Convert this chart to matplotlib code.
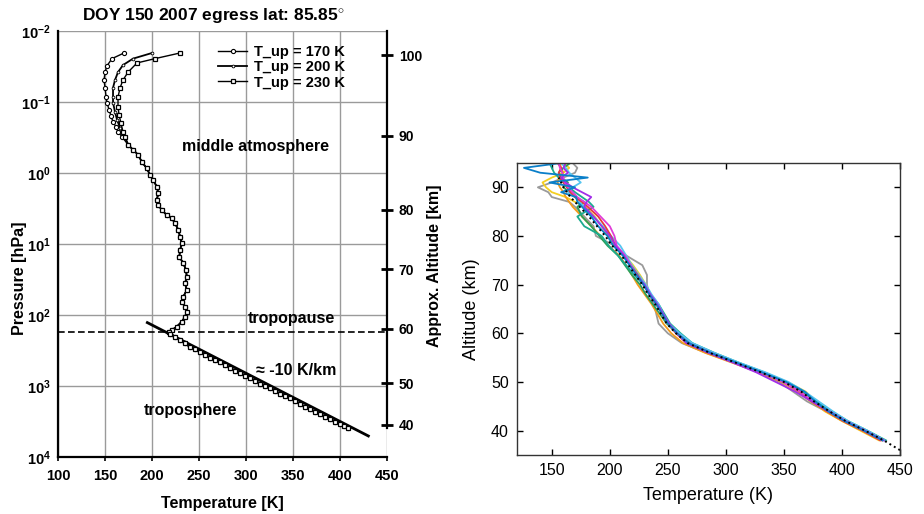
import matplotlib
matplotlib.use('Agg')
import matplotlib.pyplot as plt
import numpy as np

plt.rcParams['font.family'] = ['Liberation Sans', 'DejaVu Sans']
plt.rcParams['mathtext.fontset'] = 'custom'
plt.rcParams['mathtext.rm'] = 'Liberation Sans'
plt.rcParams['mathtext.bf'] = 'Liberation Sans:bold'

# --- left panel: retrieved T(p), upper part depends on T_up ---
t_170 = [170.2, 157.4, 152.1, 150.0, 148.9, 150.0, 151.1, 152.1, 154.3, 156.4, 158.5, 161.7, 163.8, 168.1]
p_170 = [0.0204, 0.0245, 0.0309, 0.0380, 0.0490, 0.0631, 0.0851, 0.102, 0.129, 0.158, 0.191, 0.224, 0.263, 0.309]

t_200 = [200.0, 179.8, 169.1, 163.8, 160.6, 158.5, 158.5, 158.5, 160.6, 162.8, 166.0, 169.1]
p_200 = [0.0204, 0.0245, 0.0302, 0.0380, 0.0490, 0.0631, 0.0851, 0.102, 0.138, 0.178, 0.234, 0.275]

t_230 = [229.8, 203.2, 184.0, 174.5, 169.1, 166.0, 163.8, 163.8, 164.9, 167.0, 169.1, 171.3]
p_230 = [0.0204, 0.0245, 0.0282, 0.0380, 0.0490, 0.0631, 0.0851, 0.117, 0.151, 0.200, 0.263, 0.309]

# shared part (middle atmosphere down to tropopause)
t_common = [174.8, 180.1, 185.4, 189.0, 194.4, 197.9, 201.4, 205.0, 206.7, 205.0, 206.7, 210.3,
            215.6, 221.0, 224.5, 228.0, 229.8, 231.6, 229.8, 229.0, 233.3, 236.2, 236.9, 235.1,
            236.9, 233.3, 231.6, 235.1, 236.9, 235.1, 231.6, 226.3, 221.0, 218.4]
p_common = [0.404, 0.474, 0.557, 0.693, 0.859, 1.067, 1.256, 1.560, 1.932, 2.399, 2.825, 3.319,
            3.908, 4.345, 5.105, 6.353, 7.889, 9.772, 12.16, 15.10, 18.71, 23.23, 28.91, 35.81,
            44.46, 55.21, 65.01, 76.38, 89.95, 105.7, 124.2, 146.2, 162.6, 171.8]

# troposphere
t_tropo = [219.1, 224.5, 229.8, 235.0, 240.4, 245.7, 251.1, 256.4, 261.7, 267.0, 272.3, 277.6,
           283.0, 288.3, 293.6, 299.0, 304.3, 309.6, 314.9, 320.2, 325.5, 330.9, 336.2, 341.5,
           346.8, 352.1, 357.4, 362.8, 368.1, 373.4, 378.7, 384.0, 389.4, 394.7, 400.0, 404.0, 408.5]
p_tropo = [182.4, 203, 224.9, 252, 282.5, 305, 331.9, 364, 397.2, 430, 466.7, 510,
           557.2, 605, 656.1, 712, 770.9, 843, 922.6, 1000, 1084, 1180, 1276, 1385,
           1500, 1640, 1795, 1950, 2109, 2290, 2477, 2690, 2917, 3170, 3428, 3620, 3846]

# lapse-rate line (~ -10 K/km)
t_fit = [195.0, 430.1]
p_fit = [128, 5058]

p_tropopause = 176

p_ticks = [1e-2, 1e-1, 1e0, 1e1, 1e2, 1e3, 1e4]
p_tick_labels = [r'$\mathbf{10^{-2}}$', r'$\mathbf{10^{-1}}$', r'$\mathbf{10^{0}}$', r'$\mathbf{10^{1}}$',
                 r'$\mathbf{10^{2}}$', r'$\mathbf{10^{3}}$', r'$\mathbf{10^{4}}$']
t_ticks_left = [100, 150, 200, 250, 300, 350, 400, 450]

alt_tick_p = [0.0218, 0.301, 3.32, 22.5, 157, 908, 3540]
alt_tick_labels = ['100', '90', '80', '70', '60', '50', '40']

# --- right panel: altitude profiles ---
alt_grid = [38, 40, 42, 44, 46, 48, 50, 52, 54, 56, 58, 60, 62, 64, 66, 68, 70, 72, 74, 76, 78, 80,
            82, 84, 86, 87, 88, 89, 90, 91, 92, 93, 94, 95]
prof_blue = [435, 419, 402, 388, 377, 368, 352, 331, 309, 287, 268, 258, 250, 245, 240, 234, 229, 223, 217, 211, 203, 198,
             190, 184, 176, 172, 171, 158, 170, 148, 181, 140, 126, 158]
prof_orange = [434, 417, 400, 386, 373, 362, 348, 328, 305, 282, 263, 253, 246, 241, 236, 230, 224, 219, 214, 208, 199, 192,
               184, 176, 168, 165, 162, 160, 157, 155, 156, 160, 158, 157]
prof_yellow = [432, 416, 400, 385, 377, 369, 353, 332, 309, 288, 270, 259, 251, 246, 241, 235, 231, 226, 220, 213, 205, 199,
               193, 187, 179, 170, 162, 150, 145, 142, 150, 160, 165, 160]
prof_purple = [436, 420, 403, 389, 374, 360, 343, 326, 306, 285, 266, 258, 251, 246, 241, 235, 230, 223, 217, 212, 205, 200,
               193, 186, 178, 180, 184, 176, 168, 162, 158, 164, 160, 162]
prof_green = [437, 421, 404, 390, 377, 366, 351, 331, 309, 288, 269, 258, 249, 243, 237, 231, 226, 219, 213, 207, 198, 191,
              184, 176, 172, 178, 170, 165, 160, 164, 158, 156, 160, 166]
prof_lightblue = [437, 422, 405, 392, 380, 368, 354, 334, 311, 290, 271, 260, 251, 246, 242, 236, 231, 225, 219, 214, 209, 201,
                  194, 186, 178, 174, 170, 164, 168, 175, 170, 165, 162, 158]
prof_red = [433, 418, 401, 387, 374, 364, 350, 330, 307, 285, 266, 257, 250, 245, 240, 234, 229, 224, 218, 212, 205, 201,
            196, 190, 181, 176, 170, 166, 163, 160, 157, 156, 158, 155]
prof_gray = [435, 419, 401, 386, 370, 358, 346, 328, 306, 283, 262, 250, 242, 240, 238, 234, 232, 232, 228, 214, 204, 188,
             186, 178, 170, 165, 150, 147, 138, 150, 160, 170, 172, 168]
prof_teal = [438, 422, 405, 391, 378, 367, 352, 333, 311, 290, 271, 261, 252, 247, 242, 235, 229, 221, 214, 207, 199, 193,
             178, 172, 186, 182, 176, 170, 165, 160, 156, 152, 150, 148]
prof_magenta = [435, 419, 402, 388, 375, 364, 349, 330, 308, 287, 268, 258, 251, 245, 240, 234, 229, 223, 218, 213, 206, 204,
                200, 192, 184, 178, 172, 168, 164, 161, 160, 159, 157, 156]

mean_alt = [36, 38, 40, 42, 44, 46, 48, 50, 52, 54, 56, 58, 60, 62, 64, 66, 68, 70, 72, 74, 76, 78, 80, 82, 84, 86, 88, 90, 92]
mean_t = [450, 436, 420, 403, 389, 376, 365, 350, 330, 308, 286, 267, 257, 249, 244, 239, 233, 228, 222, 216, 210, 202,
          196, 189, 182, 174, 166, 160, 156]

profiles = [(prof_gray, '#9a9a9a'), (prof_yellow, '#f4cf22'), (prof_orange, '#f39c1c'), (prof_green, '#2ca05a'),
            (prof_teal, '#1aab8f'), (prof_lightblue, '#55c5f0'), (prof_red, '#e8383d'), (prof_magenta, '#e03cd8'),
            (prof_purple, '#a22ee8'), (prof_blue, '#0a7fc9')]

fig = plt.figure(figsize=(9.24, 5.14), dpi=100)

# ---------------- left panel ----------------
ax = fig.add_axes([0.0628, 0.1109, 0.3561, 0.8288])
ax.set_yscale('log')
ax.set_xlim(100, 450)
ax.set_ylim(1e4, 1e-2)
ax.grid(True, color='#9a9a9a', lw=1.0)
ax.set_axisbelow(True)

ax.axhline(p_tropopause, color='black', ls='--', lw=1.2, dashes=(4, 2))
ax.plot(t_fit, p_fit, color='black', lw=2.0)

l170, = ax.plot(t_170 + t_common + t_tropo, p_170 + p_common + p_tropo, color='black', lw=1.0,
                marker='o', ms=3, mfc='white', mew=0.8, label='T_up = 170 K')
l200, = ax.plot(t_200 + t_common + t_tropo, p_200 + p_common + p_tropo, color='black', lw=1.3,
                marker='o', ms=2, mfc='white', mew=0.6, label='T_up = 200 K')
l230, = ax.plot(t_230 + t_common + t_tropo, p_230 + p_common + p_tropo, color='black', lw=1.0,
                marker='s', ms=3.2, mfc='white', mew=0.9, label='T_up = 230 K')

ax.set_yticks(p_ticks)
ax.set_yticklabels(p_tick_labels)
ax.yaxis.set_minor_locator(matplotlib.ticker.NullLocator())
ax.set_xticks(t_ticks_left)
ax.tick_params(axis='y', length=0, pad=5, labelsize=10.5)
ax.tick_params(axis='x', direction='out', length=3, width=1.2, pad=6, labelsize=10.5)
for lab in ax.get_xticklabels():
    lab.set_fontweight('bold')
for s in ['top', 'right']:
    ax.spines[s].set_visible(False)
for s in ['left', 'bottom']:
    ax.spines[s].set_linewidth(1.6)

ax.set_xlabel('Temperature [K]', fontsize=11.5, fontweight='bold', labelpad=9)
ax.set_ylabel('Pressure [hPa]', fontsize=11.5, fontweight='bold')
ax.yaxis.set_label_coords(-0.095, 0.42)
ax.text(0.471, 1.035, 'DOY 150 2007 egress lat: 85.85$^{\\circ}$', transform=ax.transAxes,
        ha='center', va='center', fontsize=12.5, fontweight='bold')

ax.text(309.6, 0.43, 'middle atmosphere', ha='center', va='center', fontsize=11.5, fontweight='bold')
ax.text(348.6, 111, 'tropopause', ha='center', va='center', fontsize=11.5, fontweight='bold')
ax.text(353.2, 610, '≈ -10 K/km', ha='center', va='center', fontsize=11.5, fontweight='bold')
ax.text(240.4, 2230, 'troposphere', ha='center', va='center', fontsize=11.5, fontweight='bold')

leg = ax.legend(handles=[l170, l200, l230], loc='upper left', bbox_to_anchor=(0.486, 0.968),
                frameon=False, borderpad=0, borderaxespad=0, handlelength=2.0, handletextpad=0.5,
                labelspacing=0.1, prop={'weight': 'bold', 'size': 10.5})

# altitude axis on the right
ax2 = ax.twinx()
ax2.set_yscale('log')
ax2.set_ylim(1e4, 1e-2)
ax2.yaxis.set_minor_locator(matplotlib.ticker.NullLocator())
ax2.set_yticks(alt_tick_p)
ax2.set_yticklabels(alt_tick_labels)
ax2.tick_params(axis='y', direction='inout', length=9, width=2.0, pad=4, labelsize=10)
for lab in ax2.get_yticklabels():
    lab.set_fontweight('bold')
for s in ['top', 'left', 'bottom']:
    ax2.spines[s].set_visible(False)
ax2.spines['right'].set_linewidth(1.6)
ax2.spines['right'].set_bounds(3900, 1e-2)
ax2.set_ylabel('Approx. Altitude [km]', fontsize=11.5, fontweight='bold')
ax2.yaxis.set_label_coords(1.122, 0.45)

# ---------------- right panel ----------------
bx = fig.add_axes([0.5595, 0.1148, 0.4145, 0.5681])
for vals, col in profiles:
    bx.plot(vals, alt_grid, color=col, lw=1.3)
bx.plot(mean_t, mean_alt, color='black', ls=':', lw=1.4)
bx.set_xlim(120, 450)
bx.set_ylim(35, 95)
bx.set_xticks([150, 200, 250, 300, 350, 400, 450])
bx.set_yticks([40, 50, 60, 70, 80, 90])
bx.tick_params(direction='in', length=4, width=1, top=True, right=True, labelsize=11.5, pad=6)
for s in bx.spines.values():
    s.set_linewidth(1.0)
    s.set_color('#333333')
bx.set_xlabel('Temperature (K)', fontsize=13, labelpad=6)
bx.set_ylabel('Altitude (km)', fontsize=13, labelpad=8)

fig.savefig('out.png', dpi=100)
